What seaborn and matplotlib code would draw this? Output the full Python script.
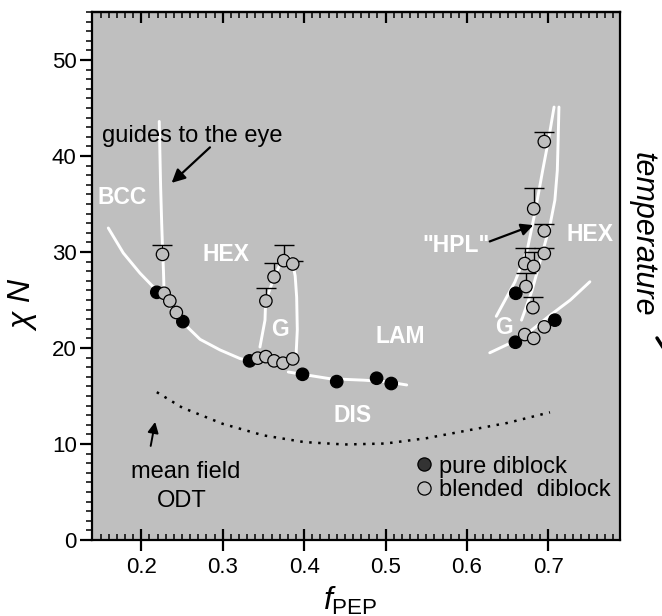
import numpy as np
import pandas as pd
import matplotlib
matplotlib.use("Agg")
import matplotlib.pyplot as plt
import seaborn as sns
from matplotlib.ticker import MultipleLocator
from matplotlib.lines import Line2D

sns.set_theme(style="ticks")
plt.rcParams["font.family"] = ["Liberation Sans", "DejaVu Sans"]
plt.rcParams["mathtext.fontset"] = "custom"
plt.rcParams["mathtext.rm"] = "Liberation Sans"
plt.rcParams["mathtext.it"] = "Liberation Sans:italic"
plt.rcParams["mathtext.bf"] = "Liberation Sans:bold"
plt.rcParams["text.color"] = "black"
plt.rcParams["axes.labelcolor"] = "black"
plt.rcParams["xtick.color"] = "black"
plt.rcParams["ytick.color"] = "black"

# ---------------- data ----------------
pure_f = [0.219, 0.251, 0.333, 0.398, 0.440, 0.489, 0.507, 0.660, 0.6595, 0.708]
pure_chiN = [25.8, 22.75, 18.66, 17.26, 16.5, 16.85, 16.3, 25.7, 20.6, 22.9]

blend_f = [0.226, 0.228, 0.235, 0.243,
           0.353, 0.363, 0.375, 0.386,
           0.343, 0.353, 0.363, 0.374, 0.386,
           0.695, 0.682, 0.695, 0.695, 0.671, 0.682, 0.6725, 0.681,
           0.671, 0.682, 0.695]
blend_chiN = [29.75, 25.7, 24.9, 23.7,
              24.9, 27.4, 29.1, 28.75,
              18.94, 19.1, 18.66, 18.42, 18.86,
              41.5, 34.5, 32.2, 29.85, 28.8, 28.5, 26.4, 24.2,
              21.4, 21.0, 22.2]
# upper end of error bar (nan = no error bar)
blend_top = [30.7, np.nan, np.nan, np.nan,
             26.2, 28.9, 30.7, 29.07,
             np.nan, np.nan, np.nan, np.nan, np.nan,
             42.5, 36.7, 32.9, 30.4, 30.4, 30.0, 27.8, 25.3,
             np.nan, np.nan, np.nan]

# guides to the eye (white curves)
main_f1 = [0.1594, 0.1778, 0.1983, 0.2188, 0.2515, 0.2722, 0.2966, 0.3212, 0.3334]
main_c1 = [32.5, 29.9, 27.8, 26.0, 22.6, 20.9, 19.8, 18.9, 18.66]
main_f2 = [0.3805, 0.3977, 0.4318, 0.4727, 0.5000, 0.526]
main_c2 = [17.5, 17.26, 16.8, 16.65, 16.5, 16.15]
bcc_f = [0.222, 0.2237, 0.2250, 0.2260, 0.2272, 0.2278]
bcc_c = [43.6, 36.8, 33.0, 30.5, 28.0, 26.2]
gyr_f = [0.3457, 0.3519, 0.3527, 0.3633, 0.372, 0.379, 0.385, 0.389, 0.3908, 0.3916, 0.390]
gyr_c = [20.1, 22.9, 24.9, 27.4, 29.0, 29.6, 29.2, 27.5, 25.3, 21.9, 19.1]
r1_f = [0.707, 0.700, 0.693, 0.684, 0.674, 0.659, 0.636]
r1_c = [45.1, 41.6, 38.5, 34.3, 30.2, 26.9, 23.3]
r2_f = [0.713, 0.712, 0.711, 0.708, 0.702, 0.692, 0.680, 0.667]
r2_c = [45.1, 41.6, 38.5, 35.4, 32.8, 29.7, 26.0, 22.9]
r3_f = [0.628, 0.653, 0.677, 0.702, 0.727, 0.751]
r3_c = [19.5, 20.5, 21.7, 23.4, 25.0, 26.9]

# mean-field ODT
mf_f = [0.219, 0.25, 0.30, 0.35, 0.40, 0.45, 0.50, 0.55, 0.60, 0.65, 0.702]
mf_c = [15.4, 13.8, 12.1, 10.9, 10.2, 9.95, 10.05, 10.6, 11.4, 12.2, 13.3]

phase_labels = ["BCC", "HEX", "G", "LAM", "DIS", '"HPL"', "HEX", "G"]
phase_f = [0.176, 0.304, 0.370, 0.518, 0.459, 0.586, 0.751, 0.645]
phase_c = [35.7, 29.7, 21.9, 21.2, 13.0, 30.7, 31.8, 22.1]

# ---------------- figure ----------------
fig = plt.figure(figsize=(6.62, 6.16), dpi=100)
ax = fig.add_axes([92 / 662, 1 - 540 / 616, 528 / 662, 528 / 616])
ax.set_facecolor("#bfbfbf")

WL = 2.1
for fx, cy in [(main_f1, main_c1), (main_f2, main_c2), (bcc_f, bcc_c), (gyr_f, gyr_c),
               (r1_f, r1_c), (r2_f, r2_c), (r3_f, r3_c)]:
    sns.lineplot(x=fx, y=cy, sort=False, estimator=None, color="white", lw=WL, ax=ax, zorder=2)

sns.lineplot(x=mf_f, y=mf_c, sort=False, estimator=None, color="black", lw=1.8,
             linestyle=(0, (1, 2.6)), ax=ax, zorder=2)

# error bars (upper only)
bf = np.array(blend_f); bc = np.array(blend_chiN); bt = np.array(blend_top)
m = ~np.isnan(bt)
eb = ax.errorbar(bf[m], bc[m], yerr=[np.zeros(m.sum()), bt[m] - bc[m]], fmt="none",
                 ecolor="black", elinewidth=1.0, capsize=7, capthick=1.0, zorder=3)
eb[1][0].set_visible(False)

df = pd.DataFrame({
    "f": pure_f + blend_f,
    "chiN": pure_chiN + blend_chiN,
    "kind": ["pure diblock"] * len(pure_f) + ["blended  diblock"] * len(blend_f),
})
sns.scatterplot(data=df, x="f", y="chiN", hue="kind",
                palette={"pure diblock": "black", "blended  diblock": "#bfbfbf"},
                edgecolor="black", linewidth=0.9, s=80, zorder=4, legend=False, ax=ax)

ax.set_xlim(0.1394, 0.788)
ax.set_ylim(0, 55)

# phase labels
for t, fx, cy in zip(phase_labels, phase_f, phase_c):
    ax.text(fx, cy, t, color="white", fontsize=16.5, fontweight="bold",
            ha="center", va="center", zorder=5)

ax.text(0.263, 42.1, "guides to the eye", fontsize=17, ha="center", va="center")
ax.annotate("", xy=(0.2372, 37.2), xytext=(0.2843, 40.9),
            arrowprops=dict(arrowstyle="-|>", color="black", lw=1.6, mutation_scale=20,
                            shrinkA=0, shrinkB=0))
ax.annotate("", xy=(0.217, 12.3), xytext=(0.2115, 9.8),
            arrowprops=dict(arrowstyle="-|>", color="black", lw=1.4, mutation_scale=16,
                            shrinkA=0, shrinkB=0))
ax.text(0.255, 7.1, "mean field", fontsize=17, ha="center", va="center")
ax.text(0.2497, 4.06, "ODT", fontsize=17, ha="center", va="center")
ax.annotate("", xy=(0.6815, 32.8), xytext=(0.628, 31.1),
            arrowprops=dict(arrowstyle="-|>", color="black", lw=1.6, mutation_scale=18,
                            shrinkA=0, shrinkB=0))

# legend
handles = [
    Line2D([], [], marker="o", ls="none", markersize=9.5, markerfacecolor="#333333",
           markeredgecolor="black", markeredgewidth=0.9),
    Line2D([], [], marker="o", ls="none", markersize=9.5, markerfacecolor="#bfbfbf",
           markeredgecolor="black", markeredgewidth=0.9),
]
ax.legend(handles, ["pure diblock", "blended  diblock"], loc="center left",
          bbox_to_anchor=(0.611, 0.117), frameon=False, fontsize=17,
          handlelength=0.8, handletextpad=0.25, borderpad=0, borderaxespad=0,
          labelspacing=0.05, labelcolor="black")

# ticks & spines
for s in ax.spines.values():
    s.set_linewidth(1.6)
    s.set_color("black")
ax.xaxis.set_major_locator(MultipleLocator(0.1))
ax.xaxis.set_minor_locator(MultipleLocator(0.01))
ax.yaxis.set_major_locator(MultipleLocator(10))
ax.yaxis.set_minor_locator(MultipleLocator(1))
ax.tick_params(axis="x", which="major", direction="inout", length=16, width=1.6,
               bottom=True, top=False, labelsize=16, pad=4, colors="black")
ax.tick_params(axis="x", which="minor", direction="in", length=4.3, width=1.1,
               bottom=True, top=False)
ax.tick_params(axis="y", which="major", direction="out", length=9, width=1.6,
               left=True, right=False, labelsize=16, pad=2, colors="black")
ax.tick_params(axis="y", which="minor", direction="out", length=4.3, width=1.1,
               left=True, right=False)
ax.set_xticks(np.arange(0.2, 0.71, 0.1))
ax.set_xticklabels(["0.2", "0.3", "0.4", "0.5", "0.6", "0.7"])

sec = ax.secondary_xaxis("top")
sec.xaxis.set_major_locator(MultipleLocator(0.1))
sec.xaxis.set_minor_locator(MultipleLocator(0.01))
sec.tick_params(which="major", direction="in", length=8, width=1.6, labeltop=False, colors="black")
sec.tick_params(which="minor", direction="in", length=4.3, width=1.1, labeltop=False)
sec.spines["top"].set_linewidth(1.6)

ax.set_xlabel(r"$\mathit{f}_{\mathrm{PEP}}$", fontsize=23)
ax.xaxis.set_label_coords(0.489, -0.085)
ax.set_ylabel(r"$\chi\ \mathit{N}$", fontsize=23)
ax.yaxis.set_label_coords(-0.10, 0.447)

fig.text(643 / 662, 1 - 234.5 / 616, "temperature", rotation=-90, fontsize=22,
         style="italic", ha="center", va="center")
fig.add_artist(Line2D([657 / 662, 664 / 662], [1 - 338 / 616, 1 - 349 / 616],
                      transform=fig.transFigure, color="black", lw=2.5))

fig.savefig("out.png", dpi=100)
